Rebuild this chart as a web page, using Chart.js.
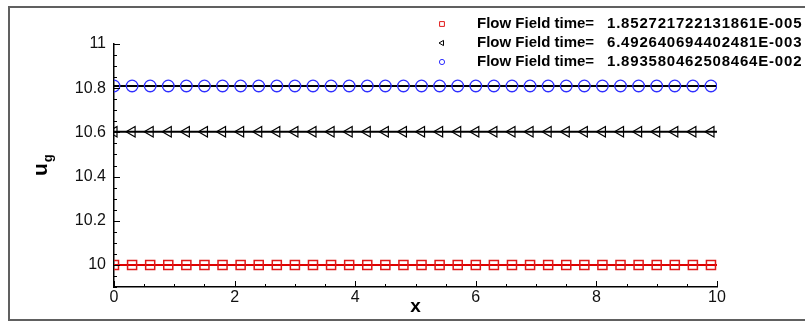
<!DOCTYPE html>
<html>
<head>
<meta charset="utf-8">
<title>u_g vs x</title>
<script src="https://cdn.jsdelivr.net/npm/chart.js@4/dist/chart.umd.min.js"></script>
<style>
    html, body { margin: 0; padding: 0; background: #fff; }
    canvas { display: block; }
</style>
</head>
<body>
<canvas id="ugChart" width="805" height="322"></canvas>
<script>
// marker positions along x (last point is the line end, no marker)
const xValues = [0, 0.3, 0.6, 0.9, 1.2, 1.5, 1.8, 2.1, 2.4, 2.7, 3, 3.3, 3.6, 3.9, 4.2, 4.5, 4.8, 5.1, 5.4, 5.7,
    6, 6.3, 6.6, 6.9, 7.2, 7.5, 7.8, 8.1, 8.4, 8.7, 9, 9.3, 9.6, 9.9, 10];

const ugTime1 = [10, 10, 10, 10, 10, 10, 10, 10, 10, 10, 10, 10, 10, 10, 10, 10, 10, 10, 10, 10,
    10, 10, 10, 10, 10, 10, 10, 10, 10, 10, 10, 10, 10, 10, 10];
const ugTime2 = [10.603, 10.603, 10.603, 10.603, 10.603, 10.603, 10.603, 10.603, 10.603, 10.603,
    10.603, 10.603, 10.603, 10.603, 10.603, 10.603, 10.603, 10.603, 10.603, 10.603,
    10.603, 10.603, 10.603, 10.603, 10.603, 10.603, 10.603, 10.603, 10.603, 10.603,
    10.603, 10.603, 10.603, 10.603, 10.603];
const ugTime3 = [10.81, 10.81, 10.81, 10.81, 10.81, 10.81, 10.81, 10.81, 10.81, 10.81,
    10.81, 10.81, 10.81, 10.81, 10.81, 10.81, 10.81, 10.81, 10.81, 10.81,
    10.81, 10.81, 10.81, 10.81, 10.81, 10.81, 10.81, 10.81, 10.81, 10.81,
    10.81, 10.81, 10.81, 10.81, 10.81];

const seriesLabels = [
    'Flow Field time=  1.852721722131861E-005',
    'Flow Field time=  6.492640694402481E-003',
    'Flow Field time=  1.893580462508464E-002'
];

const xTickLabels = [0, 2, 4, 6, 8, 10];
const yTickLabels = [10, 10.2, 10.4, 10.6, 10.8, 11];

const FONT = '"Liberation Sans", Arial, Helvetica, sans-serif';

function toPoints(ys) {
    return xValues.map((x, i) => ({ x: x, y: ys[i] }));
}

function isMajor(value, list) {
    return list.some(v => Math.abs(v - value) < 1e-6);
}

function markerRadius(r) {
    return function(ctx) {
        return ctx.dataIndex === xValues.length - 1 ? 0 : r;
    };
}

// frame, inward ticks, axis titles and the legend box
var decorations = {
    id: 'decorations',
    beforeDraw: function(chart) {
        var ctx = chart.ctx;
        ctx.save();
        ctx.fillStyle = '#fff';
        ctx.fillRect(0, 0, chart.width, chart.height);
        ctx.strokeStyle = '#606060';
        ctx.lineWidth = 2;
        ctx.strokeRect(9, 7, 820, 313);
        ctx.restore();
    },
    afterDraw: function(chart) {
        var ctx = chart.ctx;
        var area = chart.chartArea;
        var xs = chart.scales.x;
        var ys = chart.scales.y;

        ctx.save();
        ctx.strokeStyle = '#000';
        ctx.lineWidth = 1;
        ctx.beginPath();
        ys.ticks.forEach(function(t) {
            var py = Math.round(ys.getPixelForValue(t.value)) + 0.5;
            var len = isMajor(t.value, yTickLabels) ? 6 : 3;
            ctx.moveTo(area.left, py);
            ctx.lineTo(area.left + len, py);
        });
        xs.ticks.forEach(function(t) {
            var px = Math.round(xs.getPixelForValue(t.value)) + 0.5;
            var len = isMajor(t.value, xTickLabels) ? 6 : 3;
            ctx.moveTo(px, area.bottom);
            ctx.lineTo(px, area.bottom - len);
        });
        ctx.stroke();

        // x title
        ctx.fillStyle = '#000';
        ctx.font = 'bold 19px ' + FONT;
        ctx.textAlign = 'center';
        ctx.textBaseline = 'middle';
        ctx.fillText('x', (area.left + area.right) / 2, 307);

        // y title u_g
        ctx.save();
        ctx.translate(47, 176);
        ctx.rotate(-Math.PI / 2);
        ctx.textAlign = 'left';
        ctx.textBaseline = 'alphabetic';
        ctx.font = 'bold 21px ' + FONT;
        ctx.fillText('u', 0, 0);
        var uw = ctx.measureText('u').width;
        ctx.font = 'bold 13px ' + FONT;
        ctx.fillText('g', uw + 1, 5);
        ctx.restore();

        // legend
        var rowsY = [24, 43, 62];
        chart.data.datasets.forEach(function(ds, i) {
            var y = rowsY[i];
            ctx.strokeStyle = ds.pointBorderColor;
            ctx.fillStyle = 'rgba(0,0,0,0)';
            ctx.lineWidth = 1;
            Chart.helpers.drawPoint(ctx, {
                pointStyle: ds.pointStyle,
                radius: ds.legendRadius,
                rotation: ds.pointRotation || 0,
                borderWidth: 1
            }, 442, y);
            var parts = ds.label.split('=  ');
            ctx.fillStyle = '#000';
            ctx.font = 'bold 15px ' + FONT;
            ctx.textAlign = 'left';
            ctx.textBaseline = 'middle';
            ctx.fillText(parts[0] + '=', 477, y);
            ctx.letterSpacing = '0.8px';
            ctx.fillText(parts[1], 607, y);
            ctx.letterSpacing = '0px';
        });
        ctx.restore();
    }
};

var ctx = document.getElementById('ugChart').getContext('2d');
var chart = new Chart(ctx, {
    type: 'scatter',
    data: {
        datasets: [{
            label: seriesLabels[0],
            data: toPoints(ugTime1),
            showLine: true,
            borderColor: '#dd0000',
            borderWidth: 2,
            pointStyle: 'rect',
            pointRadius: markerRadius(6.4),
            pointBorderColor: '#e01818',
            pointBackgroundColor: 'rgba(0,0,0,0)',
            pointBorderWidth: 1.5,
            legendRadius: 3.4
        }, {
            label: seriesLabels[1],
            data: toPoints(ugTime2),
            showLine: true,
            borderColor: '#000000',
            borderWidth: 2,
            pointStyle: 'triangle',
            pointRotation: -90,
            pointRadius: markerRadius(6),
            pointBorderColor: '#000000',
            pointBackgroundColor: 'rgba(0,0,0,0)',
            pointBorderWidth: 1.2,
            legendRadius: 3
        }, {
            label: seriesLabels[2],
            data: toPoints(ugTime3),
            showLine: true,
            borderColor: '#000000',
            borderWidth: 2,
            pointStyle: 'circle',
            pointRadius: markerRadius(5.8),
            pointBorderColor: '#2f2fff',
            pointBackgroundColor: 'rgba(0,0,0,0)',
            pointBorderWidth: 1.3,
            legendRadius: 2.6
        }]
    },
    options: {
        responsive: false,
        animation: false,
        devicePixelRatio: 1,
        layout: {
            padding: { left: 0, right: 88, top: 44, bottom: 0 }
        },
        plugins: {
            legend: { display: false },
            tooltip: { enabled: false }
        },
        scales: {
            x: {
                type: 'linear',
                min: 0,
                max: 10,
                afterFit: function(scale) { scale.height = 35; },
                grid: { drawOnChartArea: false, drawTicks: false },
                border: { display: true, color: '#000', width: 1.5 },
                ticks: {
                    stepSize: 0.5,
                    autoSkip: false,
                    maxRotation: 0,
                    padding: 1,
                    color: '#111',
                    font: { family: FONT, size: 16 },
                    callback: function(value) {
                        return isMajor(value, xTickLabels) ? String(Math.round(value)) : '';
                    }
                }
            },
            y: {
                type: 'linear',
                min: 9.9,
                max: 11,
                afterFit: function(scale) { scale.width = 114; },
                grid: { drawOnChartArea: false, drawTicks: false },
                border: { display: true, color: '#000', width: 1.5 },
                ticks: {
                    stepSize: 0.05,
                    autoSkip: false,
                    padding: 8,
                    color: '#111',
                    font: { family: FONT, size: 16 },
                    callback: function(value) {
                        if (!isMajor(value, yTickLabels)) return '';
                        return String(Math.round(value * 10) / 10);
                    }
                }
            }
        }
    },
    plugins: [decorations]
});
</script>
</body>
</html>
